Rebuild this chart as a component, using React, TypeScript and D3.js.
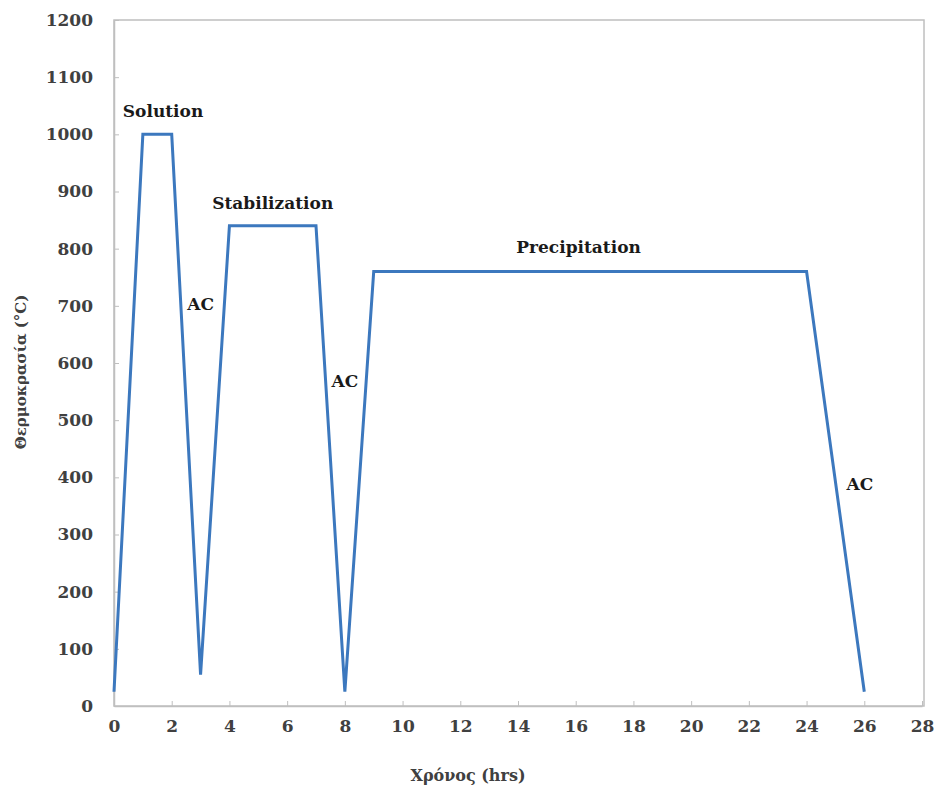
import * as d3 from 'd3';
import { useEffect, useRef } from 'react';

const hours = [0, 1, 2, 3, 4, 7, 8, 9, 24, 26];
const temps = [25, 1000, 1000, 55, 840, 840, 25, 760, 760, 25];
const xTicks = [0, 2, 4, 6, 8, 10, 12, 14, 16, 18, 20, 22, 24, 26, 28];
const yTicks = [0, 100, 200, 300, 400, 500, 600, 700, 800, 900, 1000, 1100, 1200];
const labels = ['Solution', 'AC', 'Stabilization', 'AC', 'Precipitation', 'AC'];
const labelX = [1.7, 3.0, 5.5, 8.0, 16.1, 25.85];
const labelY = [1030, 692, 870, 558, 792, 378];

function App() {
  const ref = useRef<SVGSVGElement>(null);

  useEffect(() => {
    const w = 938;
    const h = 790;
    const margin = { left: 114, top: 20, right: 14, bottom: 84 };
    const font = '"DejaVu Serif", serif';

    const svg = d3.select(ref.current);
    svg.selectAll('*').remove();

    const x = d3.scaleLinear().domain([0, 28]).range([margin.left, w - margin.right - 2]);
    const y = d3.scaleLinear().domain([0, 1200]).range([h - margin.bottom, margin.top]);

    // frame
    svg.append('rect')
      .attr('x', margin.left)
      .attr('y', margin.top)
      .attr('width', w - margin.left - margin.right)
      .attr('height', h - margin.top - margin.bottom)
      .attr('fill', 'none')
      .attr('stroke', '#bfbfbf')
      .attr('stroke-width', 1.5);

    // X axis
    const xAxis = svg.append('g')
      .attr('transform', `translate(0,${h - margin.bottom})`)
      .call(d3.axisBottom(x).tickValues(xTicks).tickSizeInner(-5).tickSizeOuter(0).tickPadding(14));
    xAxis.select('.domain').attr('stroke', '#bfbfbf').attr('stroke-width', 1.5);
    xAxis.selectAll('line').attr('stroke', '#bfbfbf');
    xAxis.selectAll('text')
      .attr('font-family', font)
      .attr('font-weight', 'bold')
      .attr('font-size', 17)
      .attr('fill', '#404040');

    // Y axis
    const yAxis = svg.append('g')
      .attr('transform', `translate(${margin.left},0)`)
      .call(d3.axisLeft(y).tickValues(yTicks).tickFormat(d3.format('d')).tickSizeInner(-5).tickSizeOuter(0).tickPadding(21));
    yAxis.select('.domain').attr('stroke', '#bfbfbf').attr('stroke-width', 1.5);
    yAxis.selectAll('line').attr('stroke', '#bfbfbf');
    yAxis.selectAll('text')
      .attr('font-family', font)
      .attr('font-weight', 'bold')
      .attr('font-size', 17)
      .attr('fill', '#404040');

    // axis titles
    svg.append('text')
      .attr('x', 468)
      .attr('y', 781)
      .attr('text-anchor', 'middle')
      .attr('font-family', font)
      .attr('font-weight', 'bold')
      .attr('font-size', 16)
      .attr('fill', '#404040')
      .text('Χρόνος (hrs)');

    svg.append('text')
      .attr('transform', 'translate(26,372) rotate(-90)')
      .attr('text-anchor', 'middle')
      .attr('font-family', font)
      .attr('font-weight', 'bold')
      .attr('font-size', 15)
      .attr('fill', '#404040')
      .text('Θερμοκρασία (°C)');

    // temperature profile
    const pts = hours.map((d, i) => [d, temps[i]] as [number, number]);
    const line = d3.line<[number, number]>()
      .x((d) => x(d[0]))
      .y((d) => y(d[1]));
    svg.append('path')
      .datum(pts)
      .attr('d', line)
      .attr('fill', 'none')
      .attr('stroke', '#3c78be')
      .attr('stroke-width', 3)
      .attr('stroke-linejoin', 'miter');

    // stage labels
    svg.selectAll('text.stage')
      .data(labels)
      .enter()
      .append('text')
      .attr('class', 'stage')
      .attr('x', (d, i) => x(labelX[i]))
      .attr('y', (d, i) => y(labelY[i]))
      .attr('text-anchor', 'middle')
      .attr('font-family', font)
      .attr('font-weight', 'bold')
      .attr('font-size', 17)
      .attr('fill', '#1a1a1a')
      .text((d) => d);
  }, []);

  return (
    <svg ref={ref} width={938} height={790} style={{ position: 'absolute', left: 0, top: 0, background: '#fff' }} />
  );
}

export default App;
